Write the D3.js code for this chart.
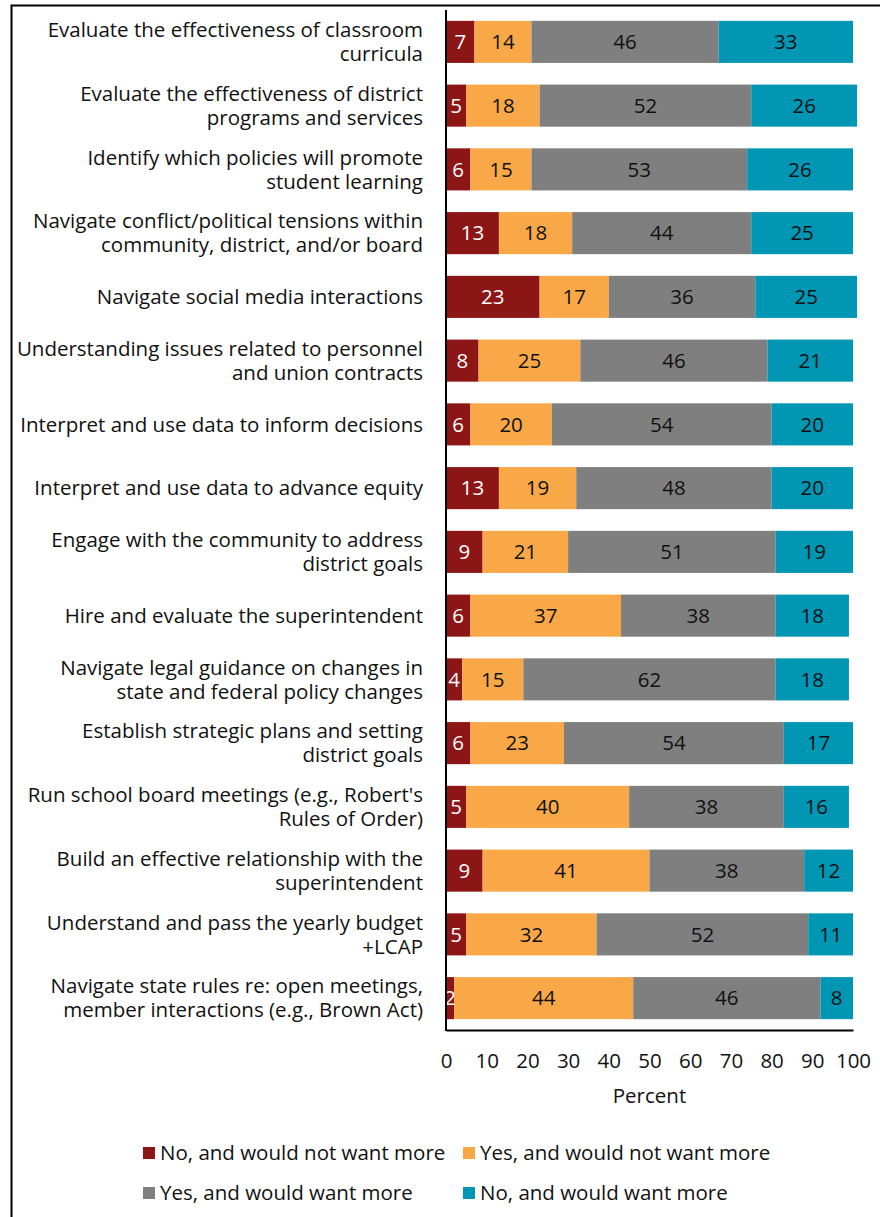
<!DOCTYPE html>
<html>
<head>
<meta charset="utf-8">
<script src="https://cdn.jsdelivr.net/npm/d3@7"></script>
<style>
  body { margin: 0; background: #fff; }
  svg { display: block; font-family: "Open Sans", Lato, sans-serif; }
</style>
</head>
<body>
<div id="chart"></div>
<script>
// categories (each entry = the lines of the wrapped label)
const categories = [
    ["Evaluate the effectiveness of classroom", "curricula"],
    ["Evaluate the effectiveness of district", "programs and services"],
    ["Identify which policies will promote", "student learning"],
    ["Navigate conflict/political tensions within", "community, district, and/or board"],
    ["Navigate social media interactions"],
    ["Understanding issues related to personnel", "and union contracts"],
    ["Interpret and use data to inform decisions"],
    ["Interpret and use data to advance equity"],
    ["Engage with the community to address", "district goals"],
    ["Hire and evaluate the superintendent"],
    ["Navigate legal guidance on changes in", "state and federal policy changes"],
    ["Establish strategic plans and setting", "district goals"],
    ["Run school board meetings (e.g., Robert's", "Rules of Order)"],
    ["Build an effective relationship with the", "superintendent"],
    ["Understand and pass the yearly budget", "+LCAP"],
    ["Navigate state rules re: open meetings,", "member interactions (e.g., Brown Act)"]
];

const seriesNames = ["No, and would not want more", "Yes, and would not want more",
    "Yes, and would want more", "No, and would want more"];

const noNotWant = [7, 5, 6, 13, 23, 8, 6, 13, 9, 6, 4, 6, 5, 9, 5, 2];
const yesNotWant = [14, 18, 15, 18, 17, 25, 20, 19, 21, 37, 15, 23, 40, 41, 32, 44];
const yesWant = [46, 52, 53, 44, 36, 46, 54, 48, 51, 38, 62, 54, 38, 38, 52, 46];
const noWant = [33, 26, 26, 25, 25, 21, 20, 20, 19, 18, 18, 17, 16, 12, 11, 8];

const xTicks = [0, 10, 20, 30, 40, 50, 60, 70, 80, 90, 100];

const colors = ["#8c1515", "#f9a848", "#7f7f7f", "#0096b4"];
const labelColors = ["#fff", "#111", "#111", "#111"];

const W = 880, H = 1217;
const plot = {left: 446, right: 853, top: 10, bottom: 1030};
const fs = 20.5;

const svg = d3.select("#chart").append("svg")
    .attr("width", W)
    .attr("height", H);

// outer border like the source figure
svg.append("rect")
    .attr("x", 11.5).attr("y", 5.5)
    .attr("width", W + 20).attr("height", H + 20)
    .attr("fill", "none")
    .attr("stroke", "#000")
    .attr("stroke-width", 2);

// build rows for stacking
const rows = categories.map((c, i) => ({
    idx: i,
    s0: noNotWant[i], s1: yesNotWant[i], s2: yesWant[i], s3: noWant[i]
}));
const stacked = d3.stack().keys(["s0", "s1", "s2", "s3"])(rows);

const x = d3.scaleLinear().domain([0, 100]).range([plot.left, plot.right]);
const y = d3.scaleBand()
    .domain(d3.range(categories.length))
    .range([plot.top, plot.bottom])
    .paddingInner(0.34)
    .paddingOuter(0.17);

const layers = svg.selectAll("g.layer")
    .data(stacked)
    .enter().append("g")
    .attr("class", "layer")
    .attr("fill", (d, k) => colors[k]);

layers.selectAll("rect")
    .data(d => d)
    .enter().append("rect")
    .attr("x", d => x(d[0]))
    .attr("y", d => y(d.data.idx))
    .attr("width", d => x(d[1]) - x(d[0]))
    .attr("height", y.bandwidth());

layers.each(function (layer, k) {
    d3.select(this).selectAll("text")
        .data(layer)
        .enter().append("text")
        .attr("x", d => (x(d[0]) + x(d[1])) / 2)
        .attr("y", d => y(d.data.idx) + y.bandwidth() / 2)
        .attr("dy", "0.35em")
        .attr("text-anchor", "middle")
        .attr("font-size", fs)
        .attr("fill", labelColors[k])
        .text(d => d[1] - d[0]);
});

// category labels
const catG = svg.append("g");
categories.forEach((lines, i) => {
    const cy = y(i) + y.bandwidth() / 2;
    const lh = 24;
    const t = catG.append("text")
        .attr("text-anchor", "end")
        .attr("font-size", fs)
        .attr("fill", "#111");
    lines.forEach((ln, j) => {
        t.append("tspan")
            .attr("x", plot.left - 23)
            .attr("y", cy + (j - (lines.length - 1) / 2) * lh)
            .attr("dy", "0.35em")
            .text(ln);
    });
});

// axes
const xAxis = svg.append("g")
    .attr("transform", "translate(0," + plot.bottom + ")")
    .call(d3.axisBottom(x).tickValues(xTicks).tickSize(0).tickPadding(23));
xAxis.select(".domain").attr("stroke", "#000").attr("stroke-width", 2);
xAxis.selectAll("text").attr("font-size", fs).attr("fill", "#111")
    .attr("font-family", "'Open Sans', Lato, sans-serif");

svg.append("line")
    .attr("x1", plot.left).attr("x2", plot.left)
    .attr("y1", plot.top).attr("y2", plot.bottom + 1)
    .attr("stroke", "#000")
    .attr("stroke-width", 2);

svg.append("text")
    .attr("x", (plot.left + plot.right) / 2)
    .attr("y", 1096)
    .attr("dy", "0.35em")
    .attr("text-anchor", "middle")
    .attr("font-size", fs)
    .attr("fill", "#111")
    .text("Percent");

// legend
const legendPos = [[143, 1153], [463, 1153], [143, 1193], [463, 1193]];
seriesNames.forEach((name, i) => {
    const g = svg.append("g")
        .attr("transform", "translate(" + legendPos[i][0] + "," + legendPos[i][1] + ")");
    g.append("rect")
        .attr("x", 0).attr("y", -6)
        .attr("width", 12).attr("height", 12)
        .attr("fill", colors[i]);
    g.append("text")
        .attr("x", 17)
        .attr("dy", "0.35em")
        .attr("font-size", fs)
        .attr("fill", "#111")
        .text(name);
});
</script>
</body>
</html>
